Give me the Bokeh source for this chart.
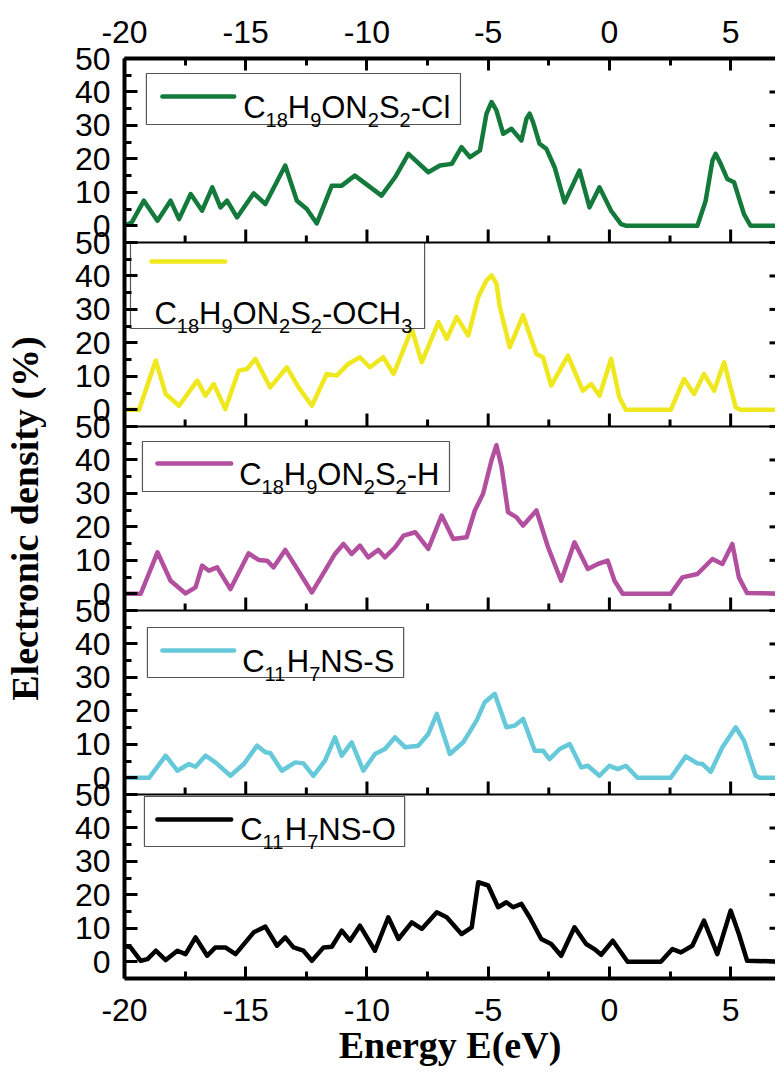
import math
from bokeh.plotting import figure
from bokeh.models import LinearAxis, FixedTicker, Range1d, Span, ColumnDataSource
from bokeh.embed import file_html
from bokeh.resources import INLINE
from bokeh.core.properties import value

# ---------------- data ----------------
x_major_ticks = [-20, -15, -10, -5, 0, 5]
x_minor_ticks = [-17.5, -12.5, -7.5, -2.5, 2.5]
y_major_ticks = [0, 10, 20, 30, 40, 50]
y_minor_ticks = [5, 15, 25, 35, 45]

cl_energy = [-20, -19.7, -19.2, -18.64, -18.1, -17.75, -17.27, -16.8, -16.38, -16.04, -15.77, -15.36,
             -14.67, -14.19, -13.37, -12.89, -12.48, -12.07, -11.45, -11.04, -10.5, -9.95, -9.4,
             -8.84, -8.29, -7.47, -6.99, -6.5, -6.1, -5.75, -5.34, -5.07, -4.86, -4.66, -4.38,
             -4.04, -3.63, -3.42, -3.29, -3.15, -2.88, -2.6, -2.26, -1.85, -1.23, -0.82, -0.41,
             0.07, 0.48, 0.7, 3.63, 3.97, 4.25, 4.38, 4.59, 4.86, 5.14, 5.55, 5.82, 7.5]
cl_density = [0, 1, 7.5, 1.5, 7.5, 2, 9.5, 4.5, 11.5, 5.5, 7.5, 2.5,
              9.7, 6.5, 18, 7.5, 5, 0.7, 12, 12, 15, 12, 9,
              14.5, 21.5, 16, 18, 18.5, 23.5, 20.5, 22.5, 33.5, 37, 34.5, 27.5,
              29, 25.5, 32, 33.5, 31, 24.5, 23, 17.5, 7, 16.5, 5.5, 11.5,
              4.5, 0.5, 0, 0, 7.5, 19.5, 21.5, 18.5, 14, 13, 3.5, 0, 0]

och3_energy = [-20, -19.4, -18.71, -18.3, -17.75, -17.0, -16.66, -16.32, -15.84, -15.29, -14.95,
               -14.6, -13.99, -13.3, -12.82, -12.27, -11.66, -11.25, -10.77, -10.29, -9.88, -9.33,
               -8.9, -8.15, -7.74, -7.05, -6.71, -6.3, -5.82, -5.41, -5.07, -4.86, -4.66, -4.52,
               -4.11, -3.56, -3.01, -2.74, -2.4, -1.71, -1.1, -0.75, -0.41, 0.07, 0.41, 0.68, 2.53,
               3.08, 3.49, 3.9, 4.32, 4.73, 5.21, 5.4, 7.5]
och3_density = [0, 0, 14.7, 4.7, 1.2, 8.7, 4.2, 7.7, 0.2, 11.7, 12.2,
                15.2, 6.7, 12.7, 6.7, 1.2, 10.7, 10.2, 13.7, 15.7, 12.7, 15.7,
                10.7, 24.2, 14.2, 26.2, 21.2, 27.7, 22.2, 33.7, 38.7, 40.2, 37.7, 30.7,
                18.7, 28.2, 16.7, 15.7, 7.2, 16.2, 5.7, 7.7, 4.2, 15.2, 3.7, 0, 0,
                9.2, 4.7, 10.7, 5.7, 14.2, 0.7, 0, 0]

h_energy = [-20, -19.33, -18.64, -18.1, -17.48, -17.07, -16.8, -16.52, -16.18, -15.63, -14.88,
            -14.47, -14.12, -13.85, -13.37, -12.96, -12.27, -11.73, -11.32, -10.97, -10.63,
            -10.29, -9.95, -9.53, -9.26, -8.84, -8.49, -8.01, -7.47, -6.92, -6.44, -5.89, -5.55,
            -5.21, -4.86, -4.66, -4.45, -4.18, -3.84, -3.56, -3.01, -2.53, -1.99, -1.44, -0.89,
            -0.48, -0.07, 0.21, 0.55, 2.53, 3.01, 3.63, 4.25, 4.66, 5.07, 5.34, 5.68, 7.5]
h_density = [0, 0, 12.4, 3.9, 0.1, 1.9, 8.4, 6.9, 7.9, 1.4, 12.1,
             10.1, 9.9, 7.9, 13.1, 8.4, 0.4, 6.9, 11.9, 14.9, 11.9,
             14.4, 10.9, 13.1, 10.9, 13.9, 17.4, 18.4, 13.4, 23.4, 16.4, 16.9, 24.9,
             29.9, 40, 44.4, 38, 24.4, 22.9, 20.4, 24.9, 13.9, 3.9, 15.4, 7.4,
             8.9, 9.9, 3.9, 0, 0, 4.9, 5.9, 10.4, 8.9, 14.9, 4.9, 0.2, 0]

s_energy = [-20, -18.99, -18.3, -17.82, -17.34, -17.07, -16.66, -16.25, -15.63, -15.08, -14.53,
            -14.19, -13.99, -13.51, -12.96, -12.62, -12.21, -11.73, -11.32, -11.04, -10.63,
            -10.15, -9.67, -9.26, -8.84, -8.42, -7.88, -7.47, -7.12, -6.58, -6.03, -5.48, -5.14,
            -4.73, -4.25, -3.9, -3.56, -3.08, -2.74, -2.47, -2.05, -1.64, -1.16, -0.89, -0.41,
            0.0, 0.34, 0.68, 1.16, 2.53, 3.15, 3.63, 3.84, 4.18, 4.66, 5.21, 5.55, 6.03, 6.2, 7.5]
s_density = [0, 0, 6.6, 2.1, 4.1, 3.3, 6.6, 4.6, 0.6, 4.1, 9.6,
             7.6, 7.4, 2.1, 4.6, 4.3, 0.6, 5.1, 12.1, 6.6, 10.6,
             2.1, 7.1, 8.6, 12.1, 9.1, 9.6, 13.1, 19.1, 7.1, 10.6, 17.1, 22.6,
             25.1, 15.1, 15.6, 17.6, 8.1, 8.1, 5.6, 8.6, 10.1, 3.1, 3.6, 0.6,
             3.6, 2.6, 3.6, 0, 0, 6.4, 4.3, 4.1, 1.8, 9.1, 15.1, 11.1, 0.6, 0, 0]

o_energy = [-20, -19.75, -19.33, -19.05, -18.71, -18.3, -17.82, -17.48, -17.07, -16.59, -16.25,
            -15.84, -15.42, -14.67, -14.19, -13.71, -13.37, -13.03, -12.62, -12.27, -11.79,
            -11.45, -11.04, -10.7, -10.29, -9.67, -9.12, -8.7, -8.15, -7.74, -7.12, -6.71, -6.1,
            -5.68, -5.41, -5.0, -4.59, -4.25, -3.97, -3.63, -3.29, -2.81, -2.4, -1.99, -1.44,
            -0.96, -0.62, -0.34, 0.14, 0.75, 2.12, 2.6, 2.95, 3.42, 3.9, 4.45, 5.0, 5.34, 5.68, 7.5]
o_density = [4.8, 4.3, 0.3, 0.8, 3.3, 0.5, 3.3, 2.3, 7.3, 1.8, 4.3,
             4.3, 2.3, 8.8, 10.5, 4.8, 7.3, 4.3, 3.3, 0.3, 4.3,
             4.5, 9.3, 6.3, 10.8, 3.3, 13.3, 6.8, 11.8, 9.8, 14.8, 13.3, 8.3,
             10.3, 23.8, 22.8, 16.3, 17.8, 16.3, 17.3, 13.3, 6.8, 5.3, 1.8, 10.3,
             5.3, 3.8, 2.1, 6.3, 0, 0, 3.8, 2.8, 4.8, 12.3, 2.3, 15.3, 8.3, 0.3, 0]

# legend texts: (fragment, is_subscript)
cl_label = [("C", 0), ("18", 1), ("H", 0), ("9", 1), ("ON", 0), ("2", 1), ("S", 0), ("2", 1), ("-Cl", 0)]
och3_label = [("C", 0), ("18", 1), ("H", 0), ("9", 1), ("ON", 0), ("2", 1), ("S", 0), ("2", 1), ("-OCH", 0), ("3", 1)]
h_label = [("C", 0), ("18", 1), ("H", 0), ("9", 1), ("ON", 0), ("2", 1), ("S", 0), ("2", 1), ("-H", 0)]
s_label = [("C", 0), ("11", 1), ("H", 0), ("7", 1), ("NS-S", 0)]
o_label = [("C", 0), ("11", 1), ("H", 0), ("7", 1), ("NS-O", 0)]

x_title = "Energy E(eV)"
y_title = "Electronic density (%)"

# ---------------- layout ----------------
W, H = 775, 1068
BL, BR, BT, BB = 122, 0, 58, 90
FW, FH = W - BL - BR, H - BT - BB
X0 = -20.0
X1 = X0 + FW / 24.32
P_LO, P_HI = -5, 50
STEP = P_HI - P_LO
NP = 5
Y0, Y1 = P_LO, P_LO + STEP * NP


def ex(px):
    return X0 + (px - BL) * (X1 - X0) / FW


def gy(py):
    return Y1 - (py - BT) * (Y1 - Y0) / FH


panels = [
    dict(E=cl_energy, V=cl_density, color="#137a3c", label=cl_label,
         box=(144, 459, 73, 124), line=(160, 232, 96), text=(241, 107)),
    dict(E=och3_energy, V=och3_density, color="#efe81f", label=och3_label,
         box=(128, 423, 242, 328), line=(149, 223, 261), text=(152, 313)),
    dict(E=h_energy, V=h_density, color="#b24f9f", label=h_label,
         box=(140, 448, 441, 491), line=(155, 229, 463), text=(237, 474)),
    dict(E=s_energy, V=s_density, color="#66c9d9", label=s_label,
         box=(145, 402, 627, 677), line=(160, 232, 650), text=(240, 661)),
    dict(E=o_energy, V=o_density, color="#000000", label=o_label,
         box=(142, 403, 796, 846), line=(155, 229, 819), text=(238, 829)),
]

CW = {"C": .722, "H": .722, "O": .778, "N": .722, "S": .667, "-": .333, "l": .222,
      "0": .556, "1": .556, "2": .556, "3": .556, "7": .556, "8": .556, "9": .556}
MAIN, SUB, DROP = 31, 20, 12

p = figure(width=W, height=H, x_range=Range1d(X0, X1), y_range=Range1d(Y0, Y1),
           output_backend="svg", toolbar_location=None,
           min_border_left=BL, min_border_right=BR, min_border_top=BT, min_border_bottom=BB)
p.grid.visible = False
p.outline_line_color = None
p.background_fill_color = "white"
p.border_fill_color = "white"

# y ticks for stacked panels
ymaj, ymin, overrides = [], [], {}
for k in range(NP):
    off = STEP * (NP - 1 - k)
    for t in y_major_ticks:
        ymaj.append(off + t)
        overrides[off + t] = str(t)
    for t in y_minor_ticks:
        ymin.append(off + t)
x_overrides = {t: str(t) for t in x_major_ticks}

TICK_FONT = "Liberation Sans"
LABEL_FONT = "Liberation Serif"


def style_axis(ax, major_in, minor_in, standoff):
    ax.axis_line_width = 4
    ax.major_tick_in = major_in
    ax.major_tick_out = 0
    ax.minor_tick_in = minor_in
    ax.minor_tick_out = 0
    ax.major_tick_line_width = 3
    ax.minor_tick_line_width = 3
    ax.major_label_text_font = TICK_FONT
    ax.major_label_text_font_size = "32px"
    ax.major_label_text_color = "black"
    ax.major_label_standoff = standoff
    ax.axis_label_text_font = LABEL_FONT
    ax.axis_label_text_font_style = "bold"
    ax.axis_label_text_font_size = "38px"
    ax.axis_label_text_color = "black"


yax = p.yaxis[0]
yax.ticker = FixedTicker(ticks=ymaj, minor_ticks=ymin)
yax.major_label_overrides = overrides
style_axis(yax, 13, 7, 14)
yax.axis_label = y_title
yax.axis_label_standoff = 26

xax = p.xaxis[0]
xax.ticker = FixedTicker(ticks=x_major_ticks, minor_ticks=x_minor_ticks)
xax.major_label_overrides = x_overrides
style_axis(xax, 12, 7, 20)
xax.axis_label = x_title
xax.axis_label_standoff = 0

top = LinearAxis(ticker=FixedTicker(ticks=x_major_ticks, minor_ticks=x_minor_ticks))
top.major_label_overrides = x_overrides
style_axis(top, 12, 7, 16)
p.add_layout(top, "above")

# panel separators and their inward ticks
for j in range(1, NP):
    b = P_LO + STEP * j
    p.add_layout(Span(location=b, dimension="width", line_color="black", line_width=2))
    p.ray(x=x_major_ticks, y=[b] * len(x_major_ticks), length=13, length_units="screen",
          angle=math.pi / 2, line_width=3, line_color="black")
    p.ray(x=x_minor_ticks, y=[b] * len(x_minor_ticks), length=7, length_units="screen",
          angle=math.pi / 2, line_width=3, line_color="black")

# right-edge ticks
p.ray(x=[X1] * len(ymaj), y=ymaj, length=6, length_units="screen", angle=math.pi,
      line_width=3, line_color="black")

# curves
for k, pn in enumerate(panels):
    off = STEP * (NP - 1 - k)
    p.line(pn["E"], [v + off for v in pn["V"]], line_color=pn["color"], line_width=4.5,
           line_join="round", line_cap="round")

# legends
tx, ty, tt, txo, tyo, tfs = [], [], [], [], [], []
for pn in panels:
    l, r, t, b = pn["box"]
    p.quad(left=[ex(l)], right=[ex(r)], top=[gy(t)], bottom=[gy(b)], fill_color="white",
           line_color="#555555", line_width=1.2)
    x1, x2, yl = pn["line"]
    p.line([ex(x1), ex(x2)], [gy(yl), gy(yl)], line_color=pn["color"], line_width=4.5,
           line_cap="round")
    px0, pbase = pn["text"]
    offx = 0.0
    for s, sub in pn["label"]:
        size = SUB if sub else MAIN
        tx.append(ex(px0))
        ty.append(gy(pbase))
        tt.append(s)
        txo.append(offx)
        tyo.append(DROP if sub else 0)
        tfs.append(f"{size}px")
        offx += sum(CW[c] for c in s) * size

src = ColumnDataSource(dict(x=tx, y=ty, text=tt, xo=txo, yo=tyo, fs=tfs))
p.text(x="x", y="y", text="text", x_offset="xo", y_offset="yo", text_font_size="fs",
       text_font=value(TICK_FONT), text_baseline="alphabetic", text_align="left",
       text_color="black", source=src)

open("out.html", "w").write(file_html(p, INLINE))
